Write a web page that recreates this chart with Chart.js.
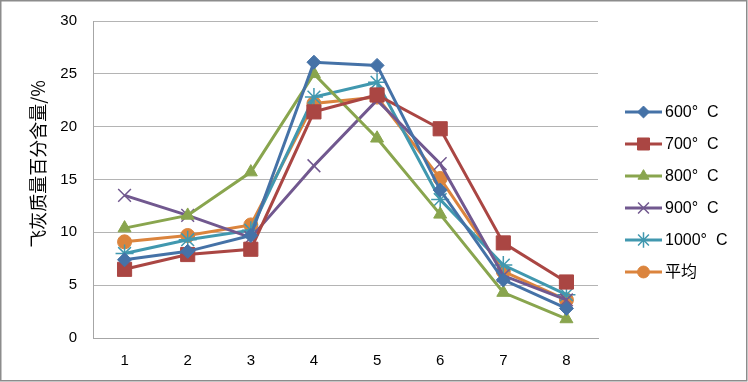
<!DOCTYPE html>
<html>
<head>
<meta charset="utf-8">
<script src="https://cdn.jsdelivr.net/npm/chart.js@4.4.0/dist/chart.umd.min.js"></script>
<style>
  html, body { margin: 0; padding: 0; background: #fff; }
  #wrap { width: 748px; height: 382px; position: relative; }
</style>
</head>
<body>
<div id="wrap"><canvas id="ash-chart"></canvas></div>
<script>
const positions = ["1", "2", "3", "4", "5", "6", "7", "8"];
const t600 = [7.4, 8.2, 9.7, 26.1, 25.8, 14.0, 5.5, 2.8];
const t700 = [6.5, 7.9, 8.4, 21.4, 23.0, 19.8, 9.0, 5.3];
const t800 = [10.4, 11.6, 15.7, 25.0, 18.9, 11.7, 4.3, 1.8];
const t900 = [13.5, 11.6, 9.5, 16.3, 22.5, 16.5, 5.9, 3.6];
const t1000 = [8.0, 9.3, 10.2, 22.8, 24.2, 13.1, 6.9, 4.1];
const average = [9.1, 9.7, 10.7, 22.2, 22.8, 15.1, 6.3, 3.6];
const yTicks = [0, 5, 10, 15, 20, 25, 30];
const yTitle = "飞灰质量百分含量/%";

const latin = "'Liberation Sans', 'Noto Sans CJK SC', sans-serif";

const makeSet = (label, data, color, style, radius, pbw) => ({
  label: label,
  data: data,
  borderColor: color,
  backgroundColor: color,
  pointBackgroundColor: color,
  pointBorderColor: color,
  pointStyle: style,
  pointRadius: radius,
  pointHoverRadius: radius,
  pointBorderWidth: pbw,
  borderWidth: 3,
  tension: 0,
});

// legend with line + marker like the spreadsheet chart
const sideLegend = {
  id: "sideLegend",
  afterDraw(chart) {
    const ctx = chart.ctx;
    ctx.save();
    chart.data.datasets.forEach((ds, i) => {
      const y = 112 + i * 32;
      ctx.strokeStyle = ds.borderColor;
      ctx.lineWidth = 3;
      ctx.beginPath();
      ctx.moveTo(625, y);
      ctx.lineTo(662, y);
      ctx.stroke();
      ctx.fillStyle = ds.borderColor;
      ctx.lineWidth = ds.pointBorderWidth;
      Chart.helpers.drawPoint(ctx, {
        pointStyle: ds.pointStyle,
        radius: ds.pointRadius * 0.85,
        rotation: 0,
        borderWidth: ds.pointBorderWidth,
      }, 643.5, y);
      ctx.fillStyle = "#000";
      ctx.font = "16px " + latin;
      ctx.textBaseline = "middle";
      ctx.textAlign = "left";
      ctx.fillText(ds.label, 665, y + 1);
    });
    ctx.restore();
  },
};

// frame + rotated y title placed where the original has it
const frame = {
  id: "frame",
  beforeDraw(chart) {
    const ctx = chart.ctx;
    ctx.save();
    ctx.fillStyle = "#fff";
    ctx.fillRect(0, 0, chart.width, chart.height);
    ctx.strokeStyle = "#8c8c8c";
    ctx.lineWidth = 1.5;
    ctx.strokeRect(0.75, 0.75, chart.width - 2, chart.height - 2);
    ctx.restore();
  },
  afterDraw(chart) {
    const ctx = chart.ctx;
    ctx.save();
    ctx.translate(38, 164);
    ctx.rotate(-Math.PI / 2);
    ctx.fillStyle = "#000";
    ctx.font = "18px 'Noto Sans CJK SC', sans-serif";
    ctx.textAlign = "center";
    ctx.textBaseline = "middle";
    ctx.fillText(yTitle, 0, 0);
    ctx.restore();
  },
};

new Chart(document.getElementById("ash-chart"), {
  type: "line",
  data: {
    labels: positions,
    datasets: [
      makeSet("600°  C", t600, "#4572A7", "rectRot", 7, 1),
      makeSet("700°  C", t700, "#AA4643", "rect", 10, 1),
      makeSet("800°  C", t800, "#89A54E", "triangle", 7.5, 1),
      makeSet("900°  C", t900, "#71588F", "crossRot", 9, 1.5),
      makeSet("1000°  C", t1000, "#4198AF", "star", 9, 1.5),
      makeSet("平均", average, "#DB843D", "circle", 7, 1),
    ],
  },
  options: {
    responsive: true,
    maintainAspectRatio: false,
    animation: false,
    layout: { padding: { left: 0, right: 150, top: 21, bottom: 0 } },
    plugins: {
      legend: { display: false },
      tooltip: { enabled: false },
    },
    scales: {
      x: {
        offset: true,
        grid: { display: false, drawTicks: false },
        border: { display: true, color: "#a6a6a6", width: 1 },
        ticks: { color: "#000", font: { size: 15, family: latin }, padding: 14 },
        afterFit: (scale) => { scale.height = 44; },
      },
      y: {
        min: 0,
        max: 30,
        afterBuildTicks: (scale) => { scale.ticks = yTicks.map((v) => ({ value: v })); },
        grid: { color: "#b4b4b4", lineWidth: 1, drawTicks: false },
        border: { display: true, color: "#a6a6a6", width: 1 },
        ticks: { color: "#000", font: { size: 15, family: latin }, padding: 16 },
        afterFit: (scale) => {
          scale.width = 93;
          scale.paddingTop = 0;
          scale.paddingBottom = 0;
        },
      },
    },
  },
  plugins: [frame, sideLegend],
});
</script>
</body>
</html>
